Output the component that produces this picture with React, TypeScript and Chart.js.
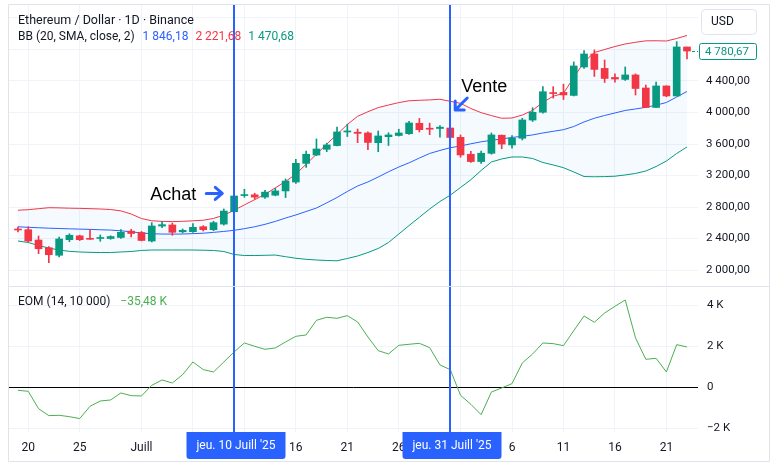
import React, { useEffect, useRef } from 'react';
import { Chart, registerables } from 'chart.js';
Chart.register(...registerables);

const FONT = 'Roboto, "Noto Sans", sans-serif';
const GREEN = '#089981';
const RED = '#F23645';
const BLUE = '#2962FF';
const TEXT = '#131722';
const GRID = '#F0F3FA';
const BORDER = '#E0E3EB';
const EOM_COLOR = '#4CAF50';

// ---- data ----
const dates = [
  '2025-06-19','2025-06-20','2025-06-21','2025-06-22','2025-06-23','2025-06-24','2025-06-25','2025-06-26','2025-06-27','2025-06-28','2025-06-29','2025-06-30',
  '2025-07-01','2025-07-02','2025-07-03','2025-07-04','2025-07-05','2025-07-06','2025-07-07','2025-07-08','2025-07-09','2025-07-10','2025-07-11','2025-07-12',
  '2025-07-13','2025-07-14','2025-07-15','2025-07-16','2025-07-17','2025-07-18','2025-07-19','2025-07-20','2025-07-21','2025-07-22','2025-07-23','2025-07-24',
  '2025-07-25','2025-07-26','2025-07-27','2025-07-28','2025-07-29','2025-07-30','2025-07-31','2025-08-01','2025-08-02','2025-08-03','2025-08-04','2025-08-05',
  '2025-08-06','2025-08-07','2025-08-08','2025-08-09','2025-08-10','2025-08-11','2025-08-12','2025-08-13','2025-08-14','2025-08-15','2025-08-16','2025-08-17',
  '2025-08-18','2025-08-19','2025-08-20','2025-08-21','2025-08-22','2025-08-23'
];
const open = [2518,2512,2381,2283,2187,2385,2434,2397,2400,2400,2413,2494,2476,2368,2558,2572,2485,2487,2550,2512,2583,2740,2945,2955,2926,2950,3004,3117,3354,3460,3533,3580,3753,3750,3740,3617,3693,3708,3731,3863,3795,3797,3803,3685,3470,3377,3482,3711,3588,3673,3904,4003,4252,4255,4217,4578,4743,4560,4445,4420,4477,4311,4064,4337,4210,4832];
const high = [2546,2550,2432,2296,2419,2461,2443,2512,2445,2435,2512,2517,2490,2601,2619,2597,2521,2588,2563,2619,2775,2952,3025,2975,3013,3038,3156,3406,3511,3664,3609,3816,3850,3790,3753,3765,3743,3788,3888,3925,3865,3835,3816,3715,3508,3511,3740,3715,3707,3927,4061,4328,4328,4360,4642,4785,4794,4667,4490,4578,4490,4349,4387,4340,4900,4832];
const low = [2483,2355,2207,2093,2165,2360,2374,2388,2365,2390,2400,2420,2370,2356,2537,2441,2470,2478,2495,2499,2570,2730,2923,2898,2910,2942,2920,3099,3302,3454,3503,3576,3695,3617,3528,3502,3581,3701,3721,3753,3718,3686,3658,3432,3365,3355,3470,3540,3547,3651,3886,3990,4183,4165,4210,4560,4458,4381,4384,4407,4222,4064,4064,4200,4210,4680];
const close = [2508,2368,2270,2194,2394,2441,2385,2390,2408,2425,2479,2464,2375,2559,2576,2479,2504,2542,2512,2601,2749,2940,2955,2926,2989,3004,3130,3355,3470,3537,3588,3753,3760,3735,3620,3702,3715,3740,3867,3782,3788,3814,3683,3461,3377,3483,3715,3599,3673,3905,4003,4264,4240,4223,4591,4743,4547,4432,4425,4477,4305,4064,4337,4210,4832,4780.67];
const bbUpper = [2759,2766,2779,2791,2789,2785,2783,2779,2775,2768,2751,2711,2654,2625,2618,2615,2618,2625,2632,2655,2696,2760,2827,2893,2961,3043,3124,3218,3344,3471,3600,3722,3848,3952,4010,4062,4095,4126,4149,4155,4160,4168,4142,4117,4051,3998,3961,3927,3930,3968,4027,4130,4206,4244,4445,4642,4762,4800,4838,4870,4892,4910,4911,4908,4940,4978];
const bbMiddle = [2549,2542,2537,2531,2527,2523,2519,2516,2511,2507,2498,2485,2470,2460,2457,2456,2457,2462,2467,2478,2490,2504,2525,2549,2580,2617,2660,2699,2743,2787,2853,2921,2997,3067,3118,3181,3247,3308,3361,3422,3480,3518,3553,3575,3603,3628,3647,3664,3683,3698,3715,3740,3761,3782,3822,3880,3927,3962,3994,4026,4045,4066,4093,4127,4197,4267];
const bbLower = [2368,2349,2311,2279,2254,2237,2229,2224,2222,2222,2229,2235,2248,2254,2254,2254,2254,2254,2251,2248,2235,2197,2184,2184,2187,2190,2169,2149,2136,2127,2121,2117,2146,2178,2222,2273,2349,2457,2565,2669,2775,2870,2950,3048,3146,3264,3372,3410,3435,3435,3416,3365,3334,3299,3245,3187,3184,3186,3191,3207,3226,3257,3314,3384,3480,3562];
const eom = [-146,-195,-1041,-1382,-1366,-1431,-1528,-927,-667,-618,-276,-407,-423,98,358,211,618,1236,862,748,1236,1724,2163,2000,1854,1919,2211,2488,2553,3268,3415,3366,3496,3187,2455,1789,1626,2049,2098,2146,1935,1089,862,-390,-829,-1333,-228,-33,179,1187,1626,2163,2130,2033,2764,3480,3171,3626,3951,4260,2407,1366,1415,748,2081,1967];

const tickIndices = [1, 6, 12, 17, 22, 27, 32, 37, 43, 48, 53, 58, 63];
const tickLabels = ['20', '25', 'Juill', '6', '11', '16', '21', '26', 'Août', '6', '11', '16', '21'];
const priceTicks = [2000, 2400, 2800, 3200, 3600, 4000, 4400, 4800, 5200];
const priceTicksShown = [2000, 2400, 2800, 3200, 3600, 4000, 4400];
const eomTicks = [-2000, 0, 2000, 4000];
const markerIdx = [21, 42];
const markerLabels = ["jeu. 10 Juill '25", "jeu. 31 Juill '25"];
const legendTitle = 'Ethereum / Dollar · 1D · Binance';
const bbLegend = 'BB (20, SMA, close, 2)';
const bbValues = ['1 846,18', '2 221,68', '1 470,68'];
const eomLegend = 'EOM (14, 10 000)';
const eomValue = '−35,48 K';
const buyNote = { idx: 19.85, price: 2972, text: 'Achat' };
const sellNote = { idx: 42.48, price: 4032, text: 'Vente' };

const X_MIN = -0.87;
const X_MAX = 66.07;

const fmtPrice = (v: number) => {
  const neg = v < 0;
  const a = Math.abs(v);
  const int = Math.floor(a);
  const dec = Math.round((a - int) * 100).toString().padStart(2, '0');
  const s = int >= 1000 ? `${Math.floor(int / 1000)} ${String(int % 1000).padStart(3, '0')}` : String(int);
  return `${neg ? '−' : ''}${s},${dec}`;
};
const fmtK = (v: number) => (v === 0 ? '0' : `${v < 0 ? '−' : ''}${Math.abs(v) / 1000} K`);

const zeroPad = (s: any) => {
  s.paddingTop = 0;
  s.paddingBottom = 0;
  s.paddingLeft = 0;
  s.paddingRight = 0;
};

const xScaleBase = (showTicks: boolean, height: number) => ({
  type: 'linear' as const,
  min: X_MIN,
  max: X_MAX,
  offset: false,
  afterBuildTicks: (s: any) => {
    s.ticks = tickIndices.map((v) => ({ value: v }));
  },
  afterFit: (s: any) => {
    s.height = height;
    zeroPad(s);
  },
  grid: { color: GRID, drawTicks: false, offset: false, lineWidth: 1 },
  border: { display: false },
  ticks: {
    display: showTicks,
    autoSkip: false,
    maxRotation: 0,
    padding: 9,
    color: TEXT,
    font: { family: FONT, size: 12 },
    callback: (v: any) => {
      const k = tickIndices.indexOf(Number(v));
      return k >= 0 ? tickLabels[k] : '';
    },
  },
});

function roundRect(ctx: CanvasRenderingContext2D, x: number, y: number, w: number, h: number, r: number[]) {
  ctx.beginPath();
  (ctx as any).roundRect(x, y, w, h, r);
}

export default function App() {
  const topRef = useRef<HTMLCanvasElement>(null);
  const botRef = useRef<HTMLCanvasElement>(null);

  useEffect(() => {
    document.body.style.margin = '0';
    const candleColors = close.map((c, i) => (c >= open[i] ? GREEN : RED));

    const topOverlay = {
      id: 'topOverlay',
      afterDraw(chart: any) {
        const { ctx, chartArea } = chart;
        const x = chart.scales.x;
        const y = chart.scales.y;
        ctx.save();
        ctx.strokeStyle = BLUE;
        ctx.lineWidth = 2;
        markerIdx.forEach((m) => {
          const px = Math.round(x.getPixelForValue(m));
          ctx.beginPath();
          ctx.moveTo(px, chartArea.top);
          ctx.lineTo(px, chart.height);
          ctx.stroke();
        });
        ctx.lineWidth = 3;
        ctx.lineCap = 'round';
        ctx.lineJoin = 'round';
        let tx = x.getPixelForValue(buyNote.idx);
        let ty = y.getPixelForValue(buyNote.price);
        ctx.beginPath();
        ctx.moveTo(tx - 16, ty);
        ctx.lineTo(tx - 1, ty);
        ctx.moveTo(tx - 7, ty - 6);
        ctx.lineTo(tx, ty);
        ctx.lineTo(tx - 7, ty + 6);
        ctx.stroke();
        ctx.fillStyle = '#000';
        ctx.font = '18px "Liberation Sans", Arial, sans-serif';
        ctx.textAlign = 'right';
        ctx.textBaseline = 'alphabetic';
        ctx.fillText(buyNote.text, tx - 26, ty + 7);
        tx = x.getPixelForValue(sellNote.idx);
        ty = y.getPixelForValue(sellNote.price);
        ctx.beginPath();
        ctx.moveTo(tx + 12, ty - 12);
        ctx.lineTo(tx + 1, ty - 1);
        ctx.moveTo(tx, ty - 9);
        ctx.lineTo(tx, ty);
        ctx.lineTo(tx + 9, ty);
        ctx.stroke();
        ctx.textAlign = 'left';
        ctx.fillText(sellNote.text, tx + 6, ty - 18);
        ctx.textBaseline = 'middle';
        ctx.fillStyle = TEXT;
        ctx.font = `12.5px ${FONT}`;
        ctx.fillText(legendTitle, 18, 20.5);
        ctx.font = `12px ${FONT}`;
        ctx.fillText(bbLegend, 18, 36.5);
        let lx = 18 + ctx.measureText(bbLegend).width + 8;
        const vc = [BLUE, RED, GREEN];
        bbValues.forEach((v, k) => {
          ctx.fillStyle = vc[k];
          ctx.fillText(v, lx, 36.5);
          lx += ctx.measureText(v).width + 7;
        });
        const last = close[close.length - 1];
        const py = Math.round(y.getPixelForValue(last)) + 0.5;
        const lastX = x.getPixelForValue(close.length - 1);
        ctx.strokeStyle = GREEN;
        ctx.lineWidth = 1;
        ctx.lineCap = 'butt';
        ctx.setLineDash([3, 2]);
        ctx.beginPath();
        ctx.moveTo(lastX + 5, py);
        ctx.lineTo(chartArea.right, py);
        ctx.stroke();
        ctx.setLineDash([]);
        ctx.fillStyle = '#fff';
        roundRect(ctx, chartArea.right + 1.5, py - 8, 57, 16, [2, 2, 2, 2]);
        ctx.fill();
        ctx.stroke();
        ctx.fillStyle = GREEN;
        ctx.font = `11.5px ${FONT}`;
        ctx.fillText(fmtPrice(last), chartArea.right + 7, py + 0.5);
        ctx.strokeStyle = BORDER;
        ctx.fillStyle = '#fff';
        roundRect(ctx, 701.5, 9.5, 55, 25, [4, 4, 4, 4]);
        ctx.fill();
        ctx.stroke();
        ctx.fillStyle = TEXT;
        ctx.font = `12px ${FONT}`;
        ctx.fillText('USD', 711, 22);
        ctx.strokeStyle = BORDER;
        ctx.beginPath();
        ctx.moveTo(8.5, chart.height);
        ctx.lineTo(8.5, 4.5);
        ctx.lineTo(769.5, 4.5);
        ctx.lineTo(769.5, chart.height);
        ctx.moveTo(8.5, chartArea.bottom + 0.5);
        ctx.lineTo(769.5, chartArea.bottom + 0.5);
        ctx.stroke();
        ctx.restore();
      },
    };

    const botOverlay = {
      id: 'botOverlay',
      beforeDatasetsDraw(chart: any) {
        const { ctx, chartArea } = chart;
        const y = chart.scales.y;
        const zy = Math.round(y.getPixelForValue(0)) + 0.5;
        ctx.save();
        ctx.strokeStyle = '#000';
        ctx.lineWidth = 1;
        ctx.beginPath();
        ctx.moveTo(chartArea.left, zy);
        ctx.lineTo(chartArea.right, zy);
        ctx.stroke();
        ctx.restore();
      },
      afterDraw(chart: any) {
        const { ctx, chartArea } = chart;
        const x = chart.scales.x;
        ctx.save();
        ctx.font = `12px ${FONT}`;
        ctx.textBaseline = 'middle';
        markerIdx.forEach((m, k) => {
          const px = Math.round(x.getPixelForValue(m));
          ctx.strokeStyle = BLUE;
          ctx.lineWidth = 2;
          ctx.beginPath();
          ctx.moveTo(px, 0);
          ctx.lineTo(px, chartArea.bottom);
          ctx.stroke();
          const w = ctx.measureText(markerLabels[k]).width + 20;
          ctx.fillStyle = BLUE;
          roundRect(ctx, px - w / 2 + 2, chartArea.bottom, w, 27, [0, 0, 3, 3]);
          ctx.fill();
          ctx.fillStyle = '#fff';
          ctx.textAlign = 'center';
          ctx.fillText(markerLabels[k], px + 2, chartArea.bottom + 14);
        });
        ctx.textAlign = 'left';
        ctx.fillStyle = TEXT;
        ctx.fillText(eomLegend, 18, 14.5);
        ctx.fillStyle = EOM_COLOR;
        ctx.fillText(eomValue, 18 + ctx.measureText(eomLegend).width + 10, 14.5);
        ctx.strokeStyle = BORDER;
        ctx.lineWidth = 1;
        ctx.beginPath();
        ctx.moveTo(8.5, 0);
        ctx.lineTo(8.5, 174.5);
        ctx.lineTo(769.5, 174.5);
        ctx.lineTo(769.5, 0);
        ctx.stroke();
        ctx.restore();
      },
    };

    const c1 = new Chart(topRef.current as HTMLCanvasElement, {
      type: 'bar',
      data: {
        datasets: [
          {
            type: 'bar',
            label: 'body',
            data: dates.map((_, i) => ({ x: i, y: [open[i], close[i]] })) as any,
            backgroundColor: candleColors,
            barThickness: 7,
            minBarLength: 1,
            grouped: false,
            order: 0,
          } as any,
          {
            type: 'bar',
            label: 'wick',
            data: dates.map((_, i) => ({ x: i, y: [low[i], high[i]] })) as any,
            backgroundColor: candleColors,
            barThickness: 1,
            grouped: false,
            order: 1,
          } as any,
          {
            type: 'line',
            label: 'upper',
            data: dates.map((_, i) => ({ x: i, y: bbUpper[i] })),
            borderColor: RED,
            borderWidth: 1,
            pointRadius: 0,
            fill: '+2',
            backgroundColor: 'rgba(33,150,243,0.05)',
            order: 2,
          } as any,
          {
            type: 'line',
            label: 'middle',
            data: dates.map((_, i) => ({ x: i, y: bbMiddle[i] })),
            borderColor: BLUE,
            borderWidth: 1,
            pointRadius: 0,
            fill: false,
            order: 2,
          } as any,
          {
            type: 'line',
            label: 'lower',
            data: dates.map((_, i) => ({ x: i, y: bbLower[i] })),
            borderColor: GREEN,
            borderWidth: 1,
            pointRadius: 0,
            fill: false,
            order: 2,
          } as any,
        ],
      },
      options: {
        responsive: false,
        animation: false,
        layout: { padding: { top: 5, left: 9, right: 2, bottom: 1 } },
        plugins: {
          legend: { display: false },
          tooltip: { enabled: false },
          filler: { drawTime: 'beforeDatasetsDraw' },
        } as any,
        scales: {
          x: xScaleBase(false, 0) as any,
          y: {
            type: 'linear',
            position: 'right',
            min: 1797,
            max: 5365,
            afterBuildTicks: (s: any) => {
              s.ticks = priceTicks.map((v) => ({ value: v }));
            },
            afterFit: (s: any) => {
              s.width = 72;
              zeroPad(s);
            },
            grid: { color: GRID, drawTicks: false },
            border: { display: false },
            ticks: {
              padding: 8,
              color: TEXT,
              font: { family: FONT, size: 11.5 },
              callback: (v: any) => (priceTicksShown.includes(Number(v)) ? fmtPrice(Number(v)) : ''),
            },
          } as any,
        },
      },
      plugins: [topOverlay],
    });

    const c2 = new Chart(botRef.current as HTMLCanvasElement, {
      type: 'line',
      data: {
        datasets: [
          {
            label: 'EOM',
            data: dates.map((_, i) => ({ x: i, y: eom[i] })),
            borderColor: EOM_COLOR,
            borderWidth: 1,
            pointRadius: 0,
            fill: false,
          },
        ],
      },
      options: {
        responsive: false,
        animation: false,
        layout: { padding: { top: 1, left: 9, right: 2, bottom: 5 } },
        plugins: { legend: { display: false }, tooltip: { enabled: false } },
        scales: {
          x: xScaleBase(true, 29) as any,
          y: {
            type: 'linear',
            position: 'right',
            min: -2180,
            max: 4844,
            afterBuildTicks: (s: any) => {
              s.ticks = eomTicks.map((v) => ({ value: v }));
            },
            afterFit: (s: any) => {
              s.width = 72;
              zeroPad(s);
            },
            grid: { color: GRID, drawTicks: false },
            border: { display: false },
            ticks: {
              padding: 9,
              color: TEXT,
              font: { family: FONT, size: 11.5 },
              callback: (v: any) => fmtK(Number(v)),
            },
          } as any,
        },
      },
      plugins: [botOverlay],
    });

    return () => {
      c1.destroy();
      c2.destroy();
    };
  }, []);

  return (
    <div style={{ position: 'relative', width: 772, height: 466, background: '#fff' }}>
      <canvas ref={topRef} width={772} height={287} style={{ position: 'absolute', left: 0, top: 0 }} />
      <canvas ref={botRef} width={772} height={179} style={{ position: 'absolute', left: 0, top: 287 }} />
    </div>
  );
}
